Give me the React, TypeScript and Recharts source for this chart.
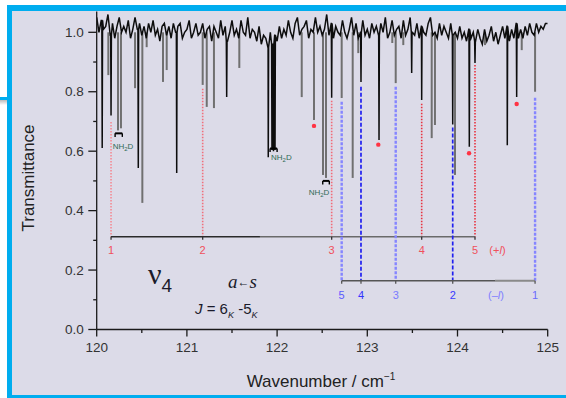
import React from "react";
import {
  ComposedChart,
  Line,
  XAxis,
  YAxis,
  ReferenceLine,
  ReferenceDot,
} from "recharts";

// ---------- data ----------
const baselineStart = 120;
const baselineStep = 0.025;
// hand-read noisy baseline (transmittance), one value per 0.025 cm-1 from 120 to 125
const baselineT = [
  1.05, 1.0, 1.04, 1.01, 1.02, 1.06, 0.99, 1.03, 0.98, 1.02, 1.05, 1.0, 1.02, 1.0, 1.04, 0.98, 1.01, 1.05, 1.01, 1.03, 0.99,
  1.02, 0.98, 1.03, 1.0, 1.04, 0.99, 1.01, 0.97, 1.02, 1.03, 0.99, 1.02, 0.98, 1.03, 1.0, 1.02, 1.03, 0.98, 1.0, 1.01,
  1.04, 0.98, 1.0, 1.03, 0.99, 1.0, 1.03, 0.98, 1.01, 1.02, 0.97, 1.02, 1.0, 0.98, 1.04, 0.99, 1.02, 0.97, 1.0, 1.04,
  0.99, 1.01, 0.98, 1.04, 1.0, 0.99, 1.05, 0.98, 1.01, 1.0, 0.97, 1.02, 0.96, 0.99, 0.98, 0.95, 1.0, 0.96, 0.99, 0.97,
  1.02, 0.98, 1.01, 0.99, 1.04, 1.0, 0.98, 1.03, 1.05, 0.99, 1.01, 1.02, 1.04, 0.98, 1.01, 1.0, 1.05, 1.0, 1.02, 0.99,
  1.01, 1.06, 0.99, 1.03, 0.98, 1.02, 1.0, 0.99, 1.04, 1.0, 0.98, 1.01, 1.05, 0.99, 1.03, 0.98, 1.0, 1.04, 0.99, 1.01,
  0.98, 1.03, 1.0, 1.02, 0.99, 1.03, 1.0, 1.05, 0.98, 1.0, 1.04, 0.99, 1.01, 1.02, 0.98, 1.04, 0.99, 1.01, 1.05, 1.0,
  0.99, 1.03, 0.98, 1.02, 1.0, 0.99, 1.03, 1.05, 0.99, 1.0, 0.98, 1.03, 0.99, 1.02, 1.0, 0.98, 1.03, 0.99, 1.0, 0.98,
  1.02, 0.98, 1.0, 0.97, 1.01, 0.98, 1.0, 0.97, 1.01, 0.98, 0.96, 1.01, 0.97, 0.99, 1.02, 0.97, 1.0, 0.96, 0.99, 1.02,
  0.98, 1.02, 0.97, 1.01, 0.98, 1.03, 0.98, 1.01, 0.98, 1.02, 0.99, 1.03, 1.0, 0.99, 1.03, 1.0, 1.02, 1.01, 1.03, 1.03,
];

// sharp black absorption lines (position, minimum transmittance)
const blackLineWn = [
  120.061, 120.159, 120.461, 120.887, 121.441, 121.902, 121.943, 121.96, 121.977, 122.605, 122.93,
  123.13, 123.492, 123.603, 123.947, 124.131, 124.194, 124.552, 124.656,
];
const blackLineMin = [
  0.611, 0.72, 0.543, 0.527, 0.782, 0.58, 0.604, 0.6, 0.604, 0.78, 0.833,
  0.638, 0.863, 0.772, 0.69, 0.615, 0.897, 0.62, 0.782,
];

// grey absorption lines
const grayLineWn = [
  120.129, 120.236, 120.269, 120.425, 120.506, 120.554, 120.735, 120.776, 121.175, 121.22,
  121.3, 121.581, 122.273, 122.409, 122.509, 122.542, 122.716, 122.838, 122.9, 123.277,
  123.315, 123.399, 123.714, 123.75, 123.972, 124.305, 124.712, 124.86,
];
const grayLineMin = [
  0.856, 0.67, 0.677, 0.812, 0.426, 0.95, 0.833, 0.873, 0.823, 0.749,
  0.745, 0.88, 0.782, 0.705, 0.52, 0.51, 0.779, 0.51, 0.93, 0.964,
  0.829, 0.957, 0.644, 0.688, 0.52, 0.957, 0.94, 0.8,
];

// (+l) assignments: red dotted lines
const plusLabels = ["1", "2", "3", "4", "5"];
const plusWn = [120.159, 121.175, 122.605, 123.603, 124.194];
const plusTop = [0.698, 0.81, 0.77, 0.76, 0.89];
const plusColors = ["#f48a93", "#f0707c", "#f26a76", "#e8323f", "#e8323f"];
const plusBarT = 0.312;
const plusBarSplit = 121.81;
const plusLabelT = 0.268;
const plusTagWn = 124.443;

// (-l) assignments: blue dashed lines
const minusLabels = ["5", "4", "3", "2", "1"];
const minusWn = [122.716, 122.93, 123.315, 123.947, 124.86];
const minusTop = [0.766, 0.817, 0.817, 0.68, 0.78];
const minusDark = [false, true, false, true, false];
const minusLabelColors = ["#5a5aff", "#3333ff", "#7a7aff", "#3a3aff", "#6a6aff"];
const minusBarT = 0.164;
const minusBarSplit = 124.416;
const minusLabelT = 0.116;
const minusTagWn = 124.427;

// red asterisks
const starWn = [122.409, 123.122, 124.128, 124.656];
const starT = [0.685, 0.622, 0.593, 0.759];

// NH2D markers: bracket (x1,x2,T) and label (wn,T)
const nhBracketX1 = [120.204, 121.922, 122.506];
const nhBracketX2 = [120.284, 122.0, 122.579];
const nhBracketT = [0.66, 0.609, 0.5];
const nhLabelWn = [120.292, 122.047, 122.465];
const nhLabelT = [0.617, 0.58, 0.464];

const xTicks = [120, 120.5, 121, 121.5, 122, 122.5, 123, 123.5, 124, 124.5, 125];
const yTicks = [0, 0.1, 0.2, 0.3, 0.4, 0.5, 0.6, 0.7, 0.8, 0.9, 1.0];

// text annotation anchors (wn, T)
const nuPos = { wn: 120.569, t: 0.153 };
const asPos = { wn: 121.456, t: 0.1396 };
const jPos = { wn: 121.09, t: 0.052 };

// ---------- build spectrum ----------
const spectrum: { x: number; y: number }[] = baselineT.map((t, i) => ({
  x: +(baselineStart + i * baselineStep).toFixed(3),
  y: t,
}));
blackLineWn.forEach((wn, i) => {
  const idx = Math.min(baselineT.length - 1, Math.round((wn - baselineStart) / baselineStep));
  const b = baselineT[idx];
  spectrum.push({ x: wn - 0.004, y: b }, { x: wn, y: blackLineMin[i] }, { x: wn + 0.004, y: b });
});
spectrum.sort((a, b) => a.x - b.x);

const SANS = "'Liberation Sans', Arial, Helvetica, sans-serif";
const SERIF = "'Liberation Serif', 'Times New Roman', serif";

const XTick = (props: any) => {
  const { x, y, payload } = props;
  const v = payload.value as number;
  const major = Math.abs(v - Math.round(v)) < 1e-6;
  return (
    <g>
      <line x1={x} x2={x} y1={y} y2={y + (major ? 7 : 3.5)} stroke="#1a1a1a" strokeWidth={1.3} />
      {major && (
        <text x={x} y={y + 18} textAnchor="middle" dominantBaseline="central" fontSize={13.5} fill="#333" fontFamily={SANS}>
          {v}
        </text>
      )}
    </g>
  );
};

const YTick = (props: any) => {
  const { x, y, payload } = props;
  const v = payload.value as number;
  const major = Math.round(v * 10) % 2 === 0;
  return (
    <g>
      <line x1={x - (major ? 8.4 : 3.5)} x2={x} y1={y} y2={y} stroke="#1a1a1a" strokeWidth={1.3} />
      {major && (
        <text x={x - 13} y={y} textAnchor="end" dominantBaseline="central" fontSize={13.5} fill="#333" fontFamily={SANS}>
          {v.toFixed(1)}
        </text>
      )}
    </g>
  );
};

export default function App() {
  return (
    <div
      style={{
        position: "absolute",
        left: 0,
        top: 0,
        width: 566,
        height: 398,
        background: "#ffffff",
        overflow: "hidden",
      }}
    >
      <div style={{ position: "absolute", left: 12, top: 11, width: 554, height: 384, background: "#dcdbe8" }} />
      <div style={{ position: "absolute", left: 7, top: 5, width: 559, height: 6, background: "#00adef" }} />
      <div style={{ position: "absolute", left: 7, top: 5, width: 5, height: 393, background: "#00adef" }} />
      <div style={{ position: "absolute", left: 7, top: 395, width: 559, height: 3, background: "#00adef" }} />
      <div style={{ position: "absolute", left: 0, top: 97, width: 7, height: 3, background: "#00adef" }} />
      <div style={{ position: "absolute", left: 0, top: 100, width: 7, height: 5, background: "linear-gradient(#bbb, #fff)" }} />
      <div style={{ position: "absolute", left: 0, top: 0 }}>
        <ComposedChart
          width={566}
          height={398}
          data={spectrum}
          margin={{ top: 11.5, right: 18.3, bottom: 38.5, left: 0 }}
        >
          <XAxis
            type="number"
            dataKey="x"
            domain={[120, 125]}
            ticks={xTicks}
            interval={0}
            allowDataOverflow
            height={30}
            tickSize={0}
            tickMargin={0}
            tickLine={false}
            tick={<XTick />}
            axisLine={{ stroke: "#1a1a1a", strokeWidth: 1.3 }}
            label={{
              content: () => (
                <text x={321} y={387} textAnchor="middle" fontSize={17} fill="#222" fontFamily={SANS}>
                  Wavenumber / cm
                  <tspan fontSize={10} dy={-7}>−1</tspan>
                </text>
              ),
            }}
          />
          <YAxis
            type="number"
            domain={[0, 1.07]}
            ticks={yTicks}
            interval={0}
            allowDataOverflow
            width={96.7}
            tickSize={0}
            tickMargin={0}
            tickLine={false}
            tick={<YTick />}
            axisLine={{ stroke: "#1a1a1a", strokeWidth: 1.3 }}
            label={{
              content: () => (
                <text
                  x={28.5}
                  y={178}
                  transform="rotate(-90 28.5 178)"
                  textAnchor="middle"
                  dominantBaseline="central"
                  fontSize={17}
                  fill="#222"
                  fontFamily={SANS}
                >
                  Transmittance
                </text>
              ),
            }}
          />

          {grayLineWn.map((wn, i) => (
            <ReferenceLine
              key={"g" + i}
              segment={[
                { x: wn, y: 1.0 },
                { x: wn, y: grayLineMin[i] },
              ]}
              stroke="#707070"
              strokeWidth={2}
            />
          ))}

          <Line
            type="linear"
            dataKey="y"
            stroke="#0d0d0d"
            strokeWidth={1.5}
            dot={false}
            isAnimationActive={false}
          />

          {/* (+l) red dotted lines */}
          {plusWn.map((wn, i) => (
            <ReferenceLine
              key={"p" + i}
              segment={[
                { x: wn, y: plusTop[i] },
                { x: wn, y: plusBarT },
              ]}
              stroke={plusColors[i]}
              strokeWidth={1.6}
              strokeDasharray="1.5 1.5"
            />
          ))}
          <ReferenceLine
            segment={[
              { x: plusWn[0], y: plusBarT },
              { x: plusBarSplit, y: plusBarT },
            ]}
            stroke="#2a2a2a"
            strokeWidth={1.5}
          />
          <ReferenceLine
            segment={[
              { x: plusBarSplit, y: plusBarT },
              { x: plusWn[plusWn.length - 1], y: plusBarT },
            ]}
            stroke="#6a6a6a"
            strokeWidth={1.5}
          />
          {plusWn.map((wn, i) => (
            <ReferenceLine
              key={"pt" + i}
              segment={[
                { x: wn, y: plusBarT },
                { x: wn, y: plusBarT - 0.01 },
              ]}
              stroke="#333"
              strokeWidth={1.3}
            />
          ))}
          {plusWn.map((wn, i) => (
            <ReferenceDot
              key={"pl" + i}
              x={wn}
              y={plusLabelT}
              r={0}
              shape={(p: any) => (
                <text x={p.cx} y={p.cy} textAnchor="middle" dominantBaseline="central" fontSize={11} fill="#f0505c" fontFamily={SANS}>
                  {plusLabels[i]}
                </text>
              )}
            />
          ))}
          <ReferenceDot
            x={plusTagWn}
            y={plusLabelT}
            r={0}
            shape={(p: any) => (
              <text x={p.cx} y={p.cy} textAnchor="middle" dominantBaseline="central" fontSize={11} fill="#f0505c" fontFamily={SANS}>
                (+<tspan fontStyle="italic">l</tspan>)
              </text>
            )}
          />

          {/* (-l) blue dashed lines */}
          {minusWn.map((wn, i) => (
            <ReferenceLine
              key={"m" + i}
              segment={[
                { x: wn, y: minusTop[i] },
                { x: wn, y: minusBarT },
              ]}
              stroke={minusDark[i] ? "#2020f0" : "#8585ff"}
              strokeWidth={minusDark[i] ? 1.7 : 2.4}
              strokeDasharray={minusDark[i] ? "4 2" : "3 1.5"}
            />
          ))}
          <ReferenceLine
            segment={[
              { x: minusWn[0], y: minusBarT },
              { x: minusBarSplit, y: minusBarT },
            ]}
            stroke="#555"
            strokeWidth={1.6}
          />
          <ReferenceLine
            segment={[
              { x: minusBarSplit, y: minusBarT },
              { x: minusWn[minusWn.length - 1], y: minusBarT },
            ]}
            stroke="#8a8a8a"
            strokeWidth={1.8}
          />
          {minusWn.map((wn, i) => (
            <ReferenceLine
              key={"mt" + i}
              segment={[
                { x: wn, y: minusBarT },
                { x: wn, y: minusBarT - 0.01 },
              ]}
              stroke="#555"
              strokeWidth={1.3}
            />
          ))}
          {minusWn.map((wn, i) => (
            <ReferenceDot
              key={"ml" + i}
              x={wn}
              y={minusLabelT}
              r={0}
              shape={(p: any) => (
                <text x={p.cx} y={p.cy} textAnchor="middle" dominantBaseline="central" fontSize={11} fill={minusLabelColors[i]} fontFamily={SANS}>
                  {minusLabels[i]}
                </text>
              )}
            />
          ))}
          <ReferenceDot
            x={minusTagWn}
            y={minusLabelT}
            r={0}
            shape={(p: any) => (
              <text x={p.cx} y={p.cy} textAnchor="middle" dominantBaseline="central" fontSize={11} fill="#7f7fff" fontFamily={SANS}>
                (–<tspan fontStyle="italic">l</tspan>)
              </text>
            )}
          />

          {/* red asterisks */}
          {starWn.map((wn, i) => (
            <ReferenceDot key={"s" + i} x={wn} y={starT[i]} r={2.2} fill="#ff3344" stroke="none" />
          ))}

          {/* NH2D brackets and labels */}
          {nhBracketX1.map((x1, i) => (
            <ReferenceLine
              key={"nb" + i}
              segment={[
                { x: x1, y: nhBracketT[i] },
                { x: nhBracketX2[i], y: nhBracketT[i] },
              ]}
              stroke="#000"
              strokeWidth={2}
            />
          ))}
          {nhBracketX1.map((x1, i) => (
            <ReferenceLine
              key={"nbl" + i}
              segment={[
                { x: x1, y: nhBracketT[i] },
                { x: x1, y: nhBracketT[i] - 0.012 },
              ]}
              stroke="#000"
              strokeWidth={1.4}
            />
          ))}
          {nhBracketX2.map((x2, i) => (
            <ReferenceLine
              key={"nbr" + i}
              segment={[
                { x: x2, y: nhBracketT[i] },
                { x: x2, y: nhBracketT[i] - 0.012 },
              ]}
              stroke="#000"
              strokeWidth={1.4}
            />
          ))}
          {nhLabelWn.map((wn, i) => (
            <ReferenceDot
              key={"nl" + i}
              x={wn}
              y={nhLabelT[i]}
              r={0}
              shape={(p: any) => (
                <text x={p.cx} y={p.cy + 3} textAnchor="middle" fontSize={8} fill="#2f6a55" fontFamily={SANS}>
                  NH<tspan fontSize={6} dy={2}>2</tspan>
                  <tspan dy={-2}>D</tspan>
                </text>
              )}
            />
          ))}

          {/* text annotations */}
          <ReferenceDot
            x={nuPos.wn}
            y={nuPos.t}
            r={0}
            shape={(p: any) => (
              <text x={p.cx} y={p.cy} fill="#1a1a2a">
                <tspan fontFamily={SERIF} fontSize={30}>ν</tspan>
                <tspan fontFamily={SANS} fontSize={19} dy={8}>4</tspan>
              </text>
            )}
          />
          <ReferenceDot
            x={asPos.wn}
            y={asPos.t}
            r={0}
            shape={(p: any) => (
              <text x={p.cx} y={p.cy} fill="#1a1a2a" fontFamily={SERIF} fontSize={19}>
                <tspan fontStyle="italic">a</tspan>
                <tspan fontSize={12} dy={-2}>←</tspan>
                <tspan fontStyle="italic" dy={2}>s</tspan>
              </text>
            )}
          />
          <ReferenceDot
            x={jPos.wn}
            y={jPos.t}
            r={0}
            shape={(p: any) => (
              <text x={p.cx} y={p.cy} fill="#1a1a2a" fontFamily={SANS} fontSize={15}>
                <tspan fontStyle="italic">J</tspan>
                {" = 6"}
                <tspan fontSize={9} dy={4} fontStyle="italic">K</tspan>
                <tspan dy={-4}>{" -5"}</tspan>
                <tspan fontSize={9} dy={4} fontStyle="italic">K</tspan>
              </text>
            )}
          />
        </ComposedChart>
      </div>
    </div>
  );
}
